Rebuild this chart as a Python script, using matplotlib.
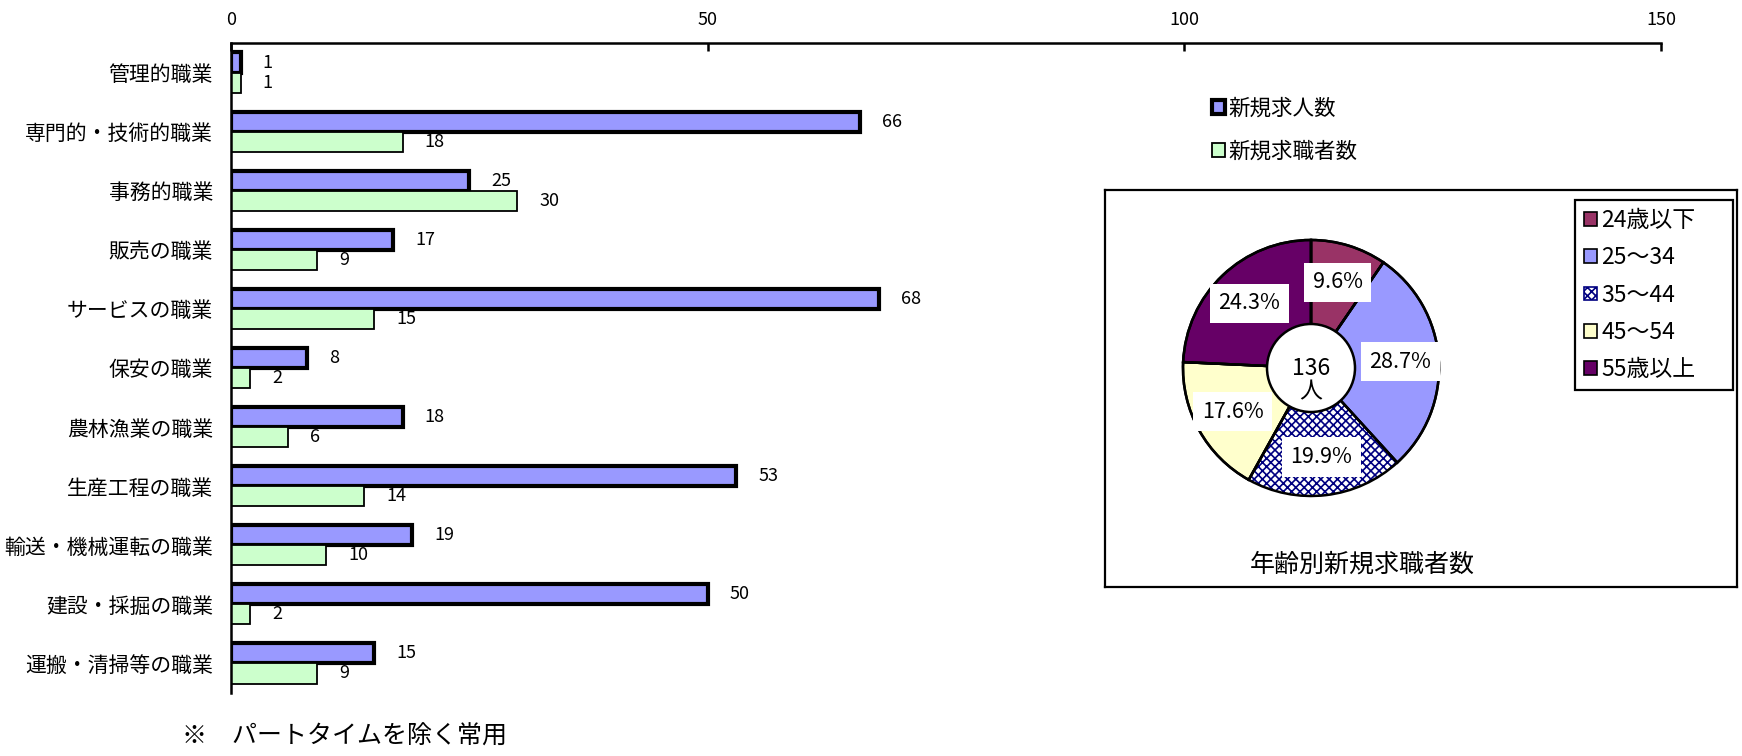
import numpy as np
import matplotlib
matplotlib.use("Agg")
import matplotlib.pyplot as plt
from matplotlib.patches import Circle

plt.rcParams["font.family"] = ["Noto Sans CJK JP", "DejaVu Sans"]
plt.rcParams["hatch.linewidth"] = 1.2

# data
occupations = [
    "管理的職業",
    "専門的・技術的職業",
    "事務的職業",
    "販売の職業",
    "サービスの職業",
    "保安の職業",
    "農林漁業の職業",
    "生産工程の職業",
    "輸送・機械運転の職業",
    "建設・採掘の職業",
    "運搬・清掃等の職業",
]
job_offers = [1, 66, 25, 17, 68, 8, 18, 53, 19, 50, 15]
job_seekers = [1, 18, 30, 9, 15, 2, 6, 14, 10, 2, 9]
series_names = ["新規求人数", "新規求職者数"]

age_groups = ["24歳以下", "25～34", "35～44", "45～54", "55歳以上"]
age_seekers = [13, 39, 27, 24, 33]
total_label = "136\n人"
pie_title = "年齢別新規求職者数"
note = "※　パートタイムを除く常用"

W, H = 1742, 756
fig = plt.figure(figsize=(W / 100, H / 100), dpi=100)

# bar chart
ax = fig.add_axes([231 / W, 1 - 693 / H, 1430 / W, 650 / H])
y = np.arange(len(occupations))
h = 0.34
b1 = ax.barh(y - h / 2, job_offers, height=h, color="#9999FF",
             edgecolor="black", linewidth=3, label=series_names[0])
b2 = ax.barh(y + h / 2, job_seekers, height=h, color="#CCFFCC",
             edgecolor="black", linewidth=1.3, label=series_names[1])
ax.bar_label(b1, padding=16, fontsize=13)
ax.bar_label(b2, padding=16, fontsize=13)

ax.set_xlim(0, 150)
ax.set_ylim(len(occupations) - 0.5, -0.5)
ax.set_xticks([0, 50, 100, 150])
ax.set_yticks(y)
ax.set_yticklabels(occupations, fontsize=15)
ax.xaxis.tick_top()
ax.tick_params(axis="x", direction="in", length=6, width=1.8, pad=10, labelsize=13)
ax.tick_params(axis="y", length=0, pad=13)
for s in ["bottom", "right"]:
    ax.spines[s].set_visible(False)
ax.spines["top"].set_linewidth(1.8)
ax.spines["left"].set_linewidth(1.8)

fig.legend(handles=[b1, b2], labels=series_names, loc="upper left",
           bbox_to_anchor=(1193 / W, 1 - 78 / H), frameon=False, fontsize=15.5,
           handlelength=0.6, handleheight=0.6, handletextpad=0.15, labelspacing=1.0)

# pie inset (axes in pixel units)
bx0, by0, bw, bh = 1105, 190, 632, 397
ax2 = fig.add_axes([bx0 / W, 1 - (by0 + bh) / H, bw / W, bh / H])
ax2.set_xlim(0, bw)
ax2.set_ylim(0, bh)
for s in ax2.spines.values():
    s.set_linewidth(1.6)
    s.set_color("black")

pc = (1311 - bx0, by0 + bh - 368)
r = 128
pie_colors = ["#993366", "#9999FF", "white", "#FFFFCC", "#660066"]
wedges, _, autotexts = ax2.pie(
    age_seekers, colors=pie_colors, startangle=90, counterclock=False,
    center=pc, radius=r, autopct="%1.1f%%", pctdistance=0.70,
    wedgeprops=dict(edgecolor="black", linewidth=1.8),
    textprops=dict(fontsize=15.5), frame=True,
)
wedges[2].set_hatch("xxxx")
wedges[2].set_edgecolor("#000080")
wedges[2].set_linewidth(0)
ax2.pie(age_seekers, colors=["none"] * 5, startangle=90, counterclock=False,
        center=pc, radius=r, frame=True,
        wedgeprops=dict(edgecolor="black", linewidth=1.8, fill=False))
for t in autotexts:
    t.set_bbox(dict(boxstyle="square,pad=0.4", facecolor="white", edgecolor="none"))
ax2.set_xlim(0, bw)
ax2.set_ylim(0, bh)
ax2.set_aspect("auto")
ax2.set_xticks([])
ax2.set_yticks([])

ax2.add_patch(Circle(pc, 44, facecolor="white", edgecolor="black", linewidth=1.8, zorder=5))
ax2.text(pc[0], pc[1] - 12, total_label, ha="center", va="center", fontsize=16.5,
         linespacing=1.0, zorder=6)
ax2.text(1362 - bx0, by0 + bh - 565, pie_title, ha="center", va="center", fontsize=18)

leg = ax2.legend(wedges, age_groups, loc="upper left", mode="expand",
                 bbox_to_anchor=(470, 0, 158, bh - 10),
                 bbox_transform=ax2.transData, fontsize=16.5, fancybox=False,
                 edgecolor="black", framealpha=1, handlelength=0.55, handleheight=0.55,
                 handletextpad=0.2, labelspacing=0.62, borderpad=0.4, borderaxespad=0)
leg.get_frame().set_linewidth(1.6)
for hnd in leg.legend_handles:
    hnd.set_linewidth(1.2)
leg.legend_handles[2].set_edgecolor("#000080")

fig.text(182 / W, 1 - 737 / H, note, ha="left", va="center", fontsize=18)

fig.savefig("out.png", dpi=100)
